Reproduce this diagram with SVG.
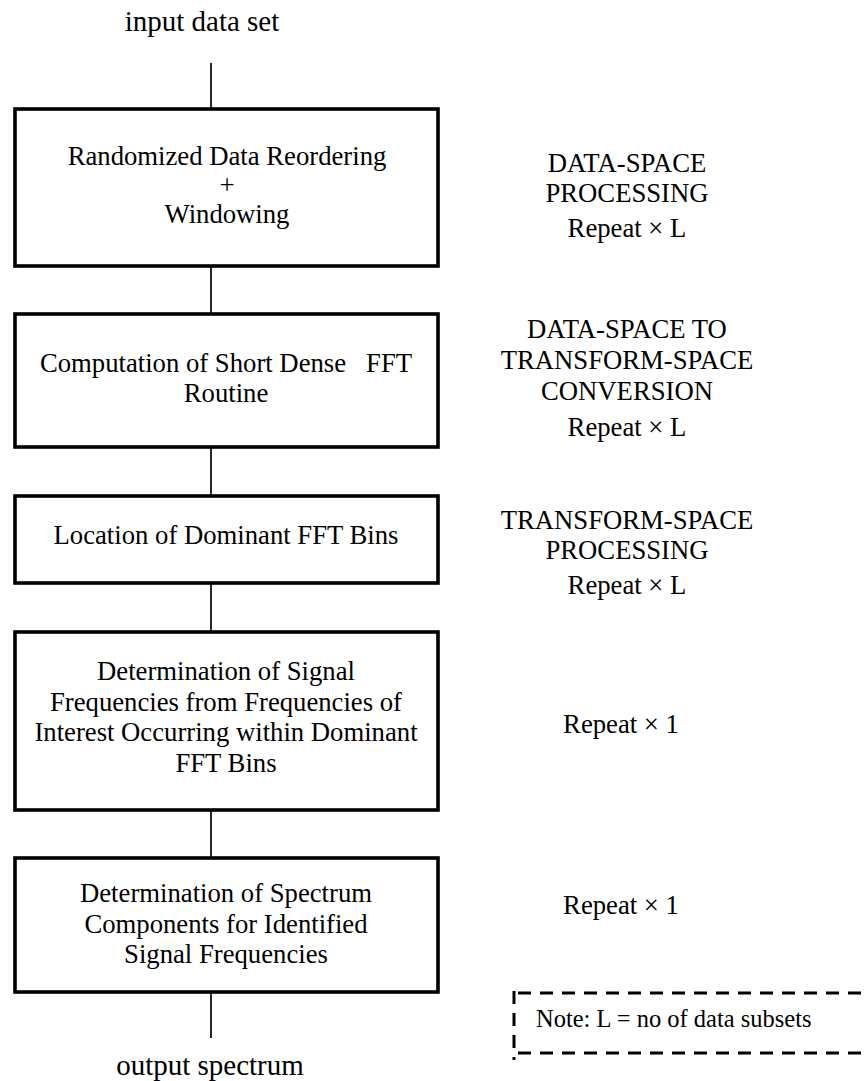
<svg xmlns="http://www.w3.org/2000/svg" width="867" height="1081" viewBox="0 0 867 1081">
  <style>
    text { font-family: "Liberation Serif", "Times New Roman", serif; fill: #000; }
    .box { fill: #fff; stroke: #000; stroke-width: 3.6; }
    .lbl { font-size: 26.7px; text-anchor: middle; }
    .io { font-size: 29px; text-anchor: middle; }
    .note { font-size: 24.5px; }
    .wire { stroke: #000; stroke-width: 1.7; fill: none; }
    .dash { stroke: #000; stroke-width: 3; fill: none; stroke-dasharray: 13 9; }
  </style>

  <!-- flow connectors -->
  <g id="connectors">
    <line class="wire" x1="211" y1="63" x2="211" y2="109"/>
    <line class="wire" x1="211" y1="266" x2="211" y2="314"/>
    <line class="wire" x1="211" y1="447" x2="211" y2="496"/>
    <line class="wire" x1="211" y1="583" x2="211" y2="632"/>
    <line class="wire" x1="211" y1="810" x2="211" y2="858"/>
    <line class="wire" x1="211" y1="992" x2="211" y2="1038"/>
  </g>

  <g id="input">
    <text class="io" x="202" y="31">input data set</text>
  </g>

  <g id="reorder">
    <rect class="box" x="15" y="109" width="423" height="157"/>
    <text class="lbl" x="227" y="165">Randomized Data Reordering</text>
    <text class="lbl" x="227" y="194">+</text>
    <text class="lbl" x="227" y="223">Windowing</text>
  </g>

  <g id="fft">
    <rect class="box" x="15" y="314" width="423" height="133"/>
    <text class="lbl" x="226" y="372" xml:space="preserve" style="white-space:pre">Computation of Short Dense   FFT</text>
    <text class="lbl" x="226" y="402">Routine</text>
  </g>

  <g id="bins">
    <rect class="box" x="15" y="496" width="423" height="87"/>
    <text class="lbl" x="226" y="544">Location of Dominant FFT Bins</text>
  </g>

  <g id="freqs">
    <rect class="box" x="15" y="632" width="423" height="178"/>
    <text class="lbl" x="226" y="680">Determination of Signal</text>
    <text class="lbl" x="226" y="711">Frequencies from Frequencies of</text>
    <text class="lbl" x="226" y="741">Interest Occurring within Dominant</text>
    <text class="lbl" x="226" y="772">FFT Bins</text>
  </g>

  <g id="spectrum">
    <rect class="box" x="15" y="858" width="423" height="134"/>
    <text class="lbl" x="226" y="902">Determination of Spectrum</text>
    <text class="lbl" x="226" y="933">Components for Identified</text>
    <text class="lbl" x="226" y="963">Signal Frequencies</text>
  </g>

  <g id="output">
    <text class="io" x="210" y="1075">output spectrum</text>
  </g>

  <!-- stage annotations -->
  <g id="stage-data">
    <text class="lbl" x="627" y="172">DATA-SPACE</text>
    <text class="lbl" x="627" y="202">PROCESSING</text>
    <text class="lbl" x="627" y="237">Repeat × L</text>
  </g>

  <g id="stage-conversion">
    <text class="lbl" x="627" y="338">DATA-SPACE TO</text>
    <text class="lbl" x="627" y="369">TRANSFORM-SPACE</text>
    <text class="lbl" x="627" y="400">CONVERSION</text>
    <text class="lbl" x="627" y="436">Repeat × L</text>
  </g>

  <g id="stage-transform">
    <text class="lbl" x="627" y="529">TRANSFORM-SPACE</text>
    <text class="lbl" x="627" y="559">PROCESSING</text>
    <text class="lbl" x="627" y="594">Repeat × L</text>
  </g>

  <g id="stage-freqs">
    <text class="lbl" x="621" y="733">Repeat × 1</text>
  </g>

  <g id="stage-spectrum">
    <text class="lbl" x="621" y="914">Repeat × 1</text>
  </g>

  <!-- legend -->
  <g id="note">
    <line class="dash" x1="518" y1="993" x2="880" y2="993"/>
    <line class="dash" x1="514" y1="991" x2="514" y2="1060" stroke-dasharray="9 11 20 8 13 9"/>
    <line class="dash" x1="518" y1="1053" x2="880" y2="1053"/>
    <text class="note" x="536" y="1027">Note: L = no of data subsets</text>
  </g>
</svg>
